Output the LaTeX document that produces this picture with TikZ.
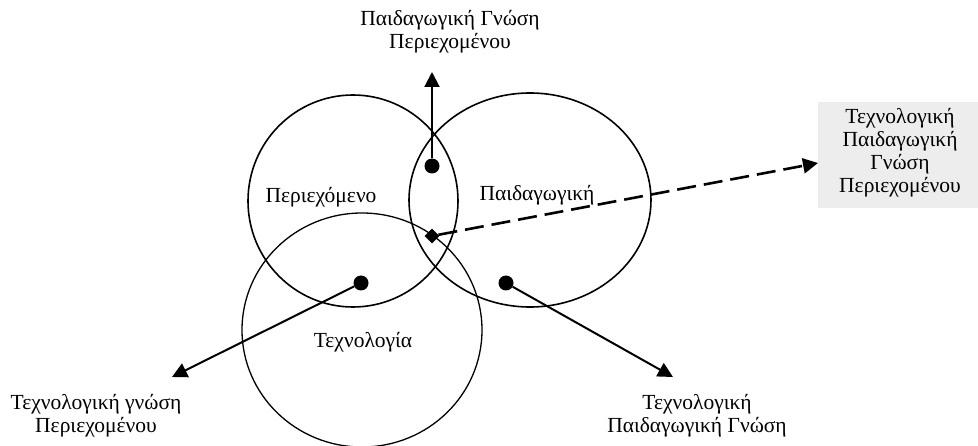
\documentclass[tikz,border=0pt]{standalone}
\usepackage{fontspec}
\setmainfont{Liberation Serif}
\usetikzlibrary{arrows.meta,shapes.geometric}
\begin{document}
\begin{tikzpicture}[x=1pt,y=-1pt,
  ring/.style={draw, line width=1.6pt},
  dot/.style={circle, fill, inner sep=0pt, minimum size=15pt},
  joint/.style={diamond, fill, inner sep=0pt, minimum size=15pt},
  lbl/.style={align=center, font=\fontsize{21.5}{23}\selectfont, inner sep=0pt},
  link/.style={line width=2pt, -{Triangle[length=15pt,width=15pt]}},
  dashlink/.style={link, line width=2.6pt, dash pattern=on 19pt off 8pt},
  ]
\useasboundingbox (0,0) rectangle (978,446);

% light screened backdrop behind the right-hand label
\fill[black!7] (818,102) rectangle (978,208);

% the three knowledge domains
\draw[ring] (353,201) ellipse [x radius=105pt, y radius=106pt];
\draw[ring] (530,200) ellipse [x radius=121pt, y radius=107pt];
\draw[ring, line width=1.3pt] (362,330) ellipse [x radius=120pt, y radius=117pt];

\node[lbl] (content) at (321,197) {Περιεχόμενο};
\node[lbl] (pedagogy) at (537,195) {Παιδαγωγική};
\node[lbl] (technology) at (363,342) {Τεχνολογία};

% intersection markers
\node[dot] (pck) at (432,166) {};
\node[dot] (tck) at (361,283) {};
\node[dot] (tpk) at (506,283) {};
\node[joint] (tpck) at (432,236) {};

% arrow ends
\coordinate (pcktip) at (432,72);
\coordinate (tcktip) at (172,377);
\coordinate (tpktip) at (673,377);
\coordinate (tpcktip) at (818,163);

\draw[link] (pck) -- (pcktip);
\draw[link] (tck) -- (tcktip);
\draw[link] (tpk) -- (tpktip);
\draw[dashlink] (tpck) -- (tpcktip);

% outer labels
\node[lbl] (pcklabel) at (450,32) {Παιδαγωγική Γνώση\\Περιεχομένου};
\node[lbl] (tcklabel) at (96,416) {Τεχνολογική γνώση\\Περιεχομένου};
\node[lbl] (tpklabel) at (697,416) {Τεχνολογική\\Παιδαγωγική Γνώση};
\node[lbl] (tpcklabel) at (900,153) {Τεχνολογική\\Παιδαγωγική\\Γνώση\\Περιεχομένου};
\end{tikzpicture}
\end{document}
